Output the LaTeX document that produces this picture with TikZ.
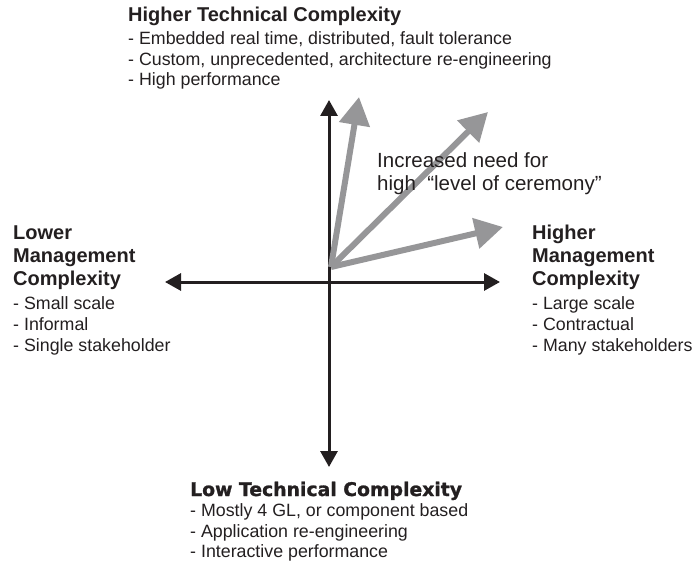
\documentclass[tikz,border=0pt]{standalone}
\usepackage{fontspec}
\setmainfont{Liberation Sans}
\newfontfamily\heavyfont{DejaVu Sans}[BoldFeatures={FakeBold=1.2}]
\usetikzlibrary{arrows.meta}
\definecolor{ink}{RGB}{35,31,32}
\definecolor{trendgrey}{RGB}{150,150,152}
\tikzset{
  titletext/.style={anchor=base west,inner sep=0pt,text=ink,font=\fontsize{20}{24}\selectfont\bfseries},
  listtext/.style={anchor=base west,inner sep=0pt,text=ink,font=\fontsize{17.8}{21}\selectfont},
  notetext/.style={anchor=base west,inner sep=0pt,text=ink,font=\fontsize{20.5}{24}\selectfont},
  axis/.style={ink,line width=3pt,{Triangle[length=16pt,width=17pt]}-{Triangle[length=16pt,width=17pt]}},
  trend/.style={trendgrey,line width=6pt,-{Triangle[length=28pt,width=30pt]}}
}
\begin{document}
\begin{tikzpicture}[x=1pt,y=-1pt]
\useasboundingbox (0,0) rectangle (692,564);
% the two axes
\coordinate (top) at (329,100);
\coordinate (bot) at (329,467);
\coordinate (lft) at (165,282);
\coordinate (rgt) at (500,282);
\draw[axis] (bot) -- (top);
\draw[axis] (lft) -- (rgt);
% grey arrows
\coordinate (src) at (331,267);
\coordinate (t1) at (359,97);
\coordinate (t2) at (488,112);
\coordinate (t3) at (503,227);
\foreach \t in {t1,t2,t3}{
        \draw[trend] (src) -- (\t);
    }
% top
\node[titletext] (htc) at (128,22) {Higher Technical Complexity};
\foreach \s [count=\i] in {{Embedded real time, distributed, fault tolerance},{Custom, unprecedented, architecture re-engineering},{High performance}}{
        \node[listtext] (htc\i) at (128,{24.5+20.5*\i}) {- \s};
    }
% left
\foreach \s [count=\i] in {Lower,Management,Complexity}{
        \node[titletext] (lmc\i) at (13,{216+23*\i}) {\s};
    }
\foreach \s [count=\i] in {Small scale,Informal,Single stakeholder}{
        \node[listtext] (lmi\i) at (13,{288+21*\i}) {- \s};
    }
% right
\foreach \s [count=\i] in {Higher,Management,Complexity}{
        \node[titletext] (hmc\i) at (532,{216+23*\i}) {\s};
    }
\foreach \s [count=\i] in {Large scale,Contractual,Many stakeholders}{
        \node[listtext] (hmi\i) at (532,{288+21*\i}) {- \s};
    }
% ceremony note
\node[notetext] (need1) at (377,167) {Increased need for};
\node[notetext] (need2) at (377,190) {high\ \ “level of ceremony”};
% bottom
\node[titletext,font=\heavyfont\bfseries\fontsize{18.8}{22}\selectfont] (ltc) at (190,496) {Low Technical Complexity};
\foreach \s [count=\i] in {{Mostly 4 GL, or component based},{Application re-engineering},{Interactive performance}}{
        \node[listtext] (lti\i) at (190,{496+20.6*\i}) {- \s};
    }
\end{tikzpicture}
\end{document}
